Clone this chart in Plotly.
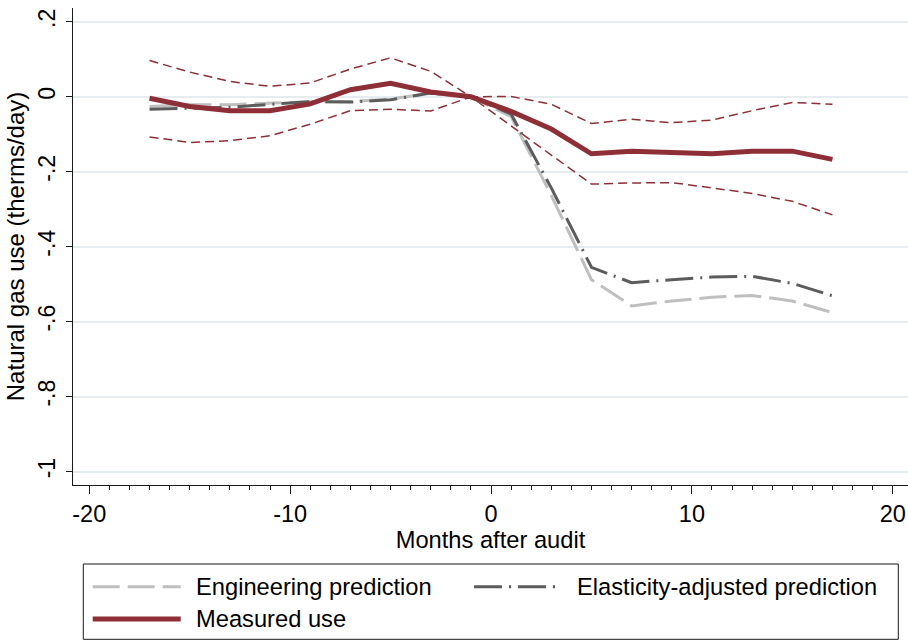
import plotly.graph_objects as go

# Event-study estimates: natural gas use relative to the month before the audit
months = [-17, -15, -13, -11, -9, -7, -5, -3, -1, 1, 3, 5, 7, 9, 11, 13, 15, 17]

engineering = [-0.026, -0.021, -0.021, -0.017, -0.013, -0.013, -0.006, 0.010, 0.0,
               -0.053, -0.263, -0.488, -0.558, -0.545, -0.535, -0.530, -0.545, -0.576]
elasticity = [-0.033, -0.030, -0.028, -0.020, -0.013, -0.014, -0.008, 0.010, 0.0,
              -0.046, -0.243, -0.455, -0.496, -0.488, -0.481, -0.479, -0.498, -0.531]
measured = [-0.004, -0.026, -0.037, -0.037, -0.019, 0.019, 0.036, 0.013, 0.0,
            -0.039, -0.086, -0.152, -0.145, -0.148, -0.152, -0.145, -0.145, -0.167]
ci_upper = [0.097, 0.066, 0.041, 0.028, 0.037, 0.074, 0.104, 0.068, 0.0,
            0.001, -0.020, -0.071, -0.060, -0.069, -0.062, -0.037, -0.015, -0.020]
ci_lower = [-0.107, -0.122, -0.117, -0.104, -0.073, -0.037, -0.033, -0.038, 0.0,
            -0.077, -0.155, -0.233, -0.230, -0.229, -0.243, -0.258, -0.279, -0.315]

y_ticks = [-1, -0.8, -0.6, -0.4, -0.2, 0, 0.2]
y_tick_text = ["-1", "-.8", "-.6", "-.4", "-.2", "0", ".2"]
x_ticks = [-20, -10, 0, 10, 20]
x_tick_text = ["-20", "-10", "0", "10", "20"]

legend_labels = ["Engineering prediction", "Elasticity-adjusted prediction", "Measured use"]

MAROON = "#8e2f37"
LIGHT_GRAY = "#bfbfbf"
DARK_GRAY = "#5c5c5c"
GRID = "#e6edf1"
AXIS = "#1a1a1a"
FONT = "Liberation Sans, Arial, sans-serif"

ENG_DASH = "27px,8px"
ELA_DASH = "28px,7px,2px,7px"
CI_DASH = "9px,5px"

W, H = 908, 641
ML, MR, MT, MB = 73, 0, 8, 156

fig = go.Figure()

for ci in (ci_upper, ci_lower):
    fig.add_trace(go.Scatter(x=months, y=ci, mode="lines", showlegend=False,
                             line=dict(color=MAROON, width=1.5, dash=CI_DASH)))

fig.add_trace(go.Scatter(x=months, y=engineering, mode="lines", name=legend_labels[0],
                         line=dict(color=LIGHT_GRAY, width=3, dash=ENG_DASH)))
fig.add_trace(go.Scatter(x=months, y=elasticity, mode="lines", name=legend_labels[1],
                         line=dict(color=DARK_GRAY, width=3, dash=ELA_DASH)))
fig.add_trace(go.Scatter(x=months, y=measured, mode="lines", name=legend_labels[2],
                         line=dict(color=MAROON, width=5)))

# Legend drawn as a boxed key below the plot area, in paper coordinates
plot_w = W - ML - MR
plot_h = H - MT - MB


def px_x(px):
    return (px - ML) / plot_w


def px_y(py):
    return (H - MB - py) / plot_h


shapes = [
    dict(type="rect", xref="paper", yref="paper",
         x0=px_x(83.3), x1=px_x(898.3), y0=px_y(564), y1=px_y(639.3),
         line=dict(color=AXIS, width=1), fillcolor="white", layer="above"),
]
keys = [
    (92.7, 180.7, 586.7, 194.0, legend_labels[0], dict(color=LIGHT_GRAY, width=3, dash=ENG_DASH)),
    (474.0, 560.0, 586.7, 575.0, legend_labels[1], dict(color=DARK_GRAY, width=3, dash=ELA_DASH)),
    (92.7, 180.7, 619.0, 194.0, legend_labels[2], dict(color=MAROON, width=5)),
]
annotations = []
for x0, x1, yy, tx, label, ln in keys:
    shapes.append(dict(type="line", xref="paper", yref="paper",
                       x0=px_x(x0), x1=px_x(x1), y0=px_y(yy), y1=px_y(yy),
                       line=ln, layer="above"))
    annotations.append(dict(xref="paper", yref="paper", x=px_x(tx), y=px_y(yy),
                            text=label, showarrow=False, xanchor="left", yanchor="middle",
                            font=dict(family=FONT, size=23.7, color="black")))

fig.update_layout(
    width=W, height=H,
    margin=dict(l=ML, r=MR, t=MT, b=MB),
    paper_bgcolor="white", plot_bgcolor="white",
    showlegend=False,
    font=dict(family=FONT, color="black"),
    shapes=shapes,
    annotations=annotations,
)

fig.update_xaxes(
    range=[-20.81, 20.76],
    tickvals=x_ticks, ticktext=x_tick_text,
    ticks="outside", ticklen=8, tickwidth=1.3, tickcolor=AXIS,
    minor=dict(dtick=1, ticks="outside", ticklen=4, tickwidth=1.2, tickcolor=AXIS, showgrid=False),
    showline=True, linecolor=AXIS, linewidth=1.3,
    showgrid=False, zeroline=False,
    tickfont=dict(family=FONT, size=23.5),
    ticklabelstandoff=0,
    title=dict(text="Months after audit", font=dict(family=FONT, size=23.7), standoff=1),
)

fig.update_yaxes(
    range=[-1.036, 0.237],
    tickvals=y_ticks, ticktext=y_tick_text,
    tickangle=-90,
    ticks="outside", ticklen=6, tickwidth=1.3, tickcolor=AXIS,
    showline=True, linecolor=AXIS, linewidth=1.3,
    showgrid=True, gridcolor=GRID, gridwidth=1.8,
    zeroline=False,
    tickfont=dict(family=FONT, size=23),
    ticklabelstandoff=2,
    title=dict(text="Natural gas use (therms/day)", font=dict(family=FONT, size=24), standoff=2),
)

fig.write_html("out.html")
